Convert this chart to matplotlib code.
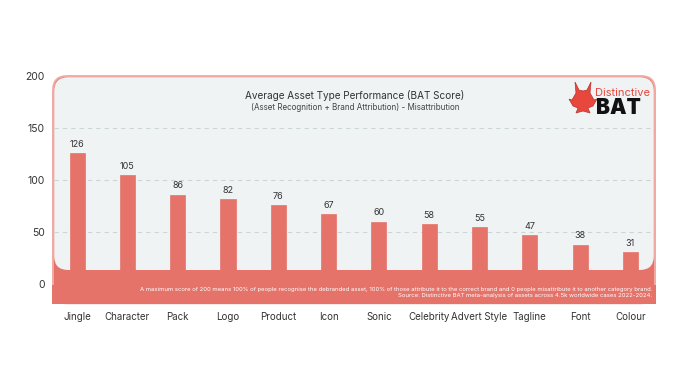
import matplotlib
matplotlib.use("Agg")
import matplotlib.pyplot as plt
from matplotlib.patches import FancyBboxPatch, Rectangle, Polygon

plt.rcParams['font.family'] = ['Inter', 'DejaVu Sans']

categories = ["Jingle", "Character", "Pack", "Logo", "Product", "Icon", "Sonic",
              "Celebrity", "Advert Style", "Tagline", "Font", "Colour"]
values = [126, 105, 86, 82, 76, 67, 60, 58, 55, 47, 38, 31]
yticks = [0, 50, 100, 150, 200]

title = "Average Asset Type Performance (BAT Score)"
subtitle = "(Asset Recognition + Brand Attribution) - Misattribution"
foot1 = ("A maximum score of 200 means 100% of people recognise the debranded asset, 100% of those "
         "attribute it to the correct brand and 0 people misattribute it to another category brand.")
foot2 = "Source: Distinctive BAT meta-analysis of assets across 4.5k worldwide cases 2022-2024."

RED = "#E5736A"
EDGE = "#F2A9A2"
GREY = "#EFF3F4"

fig = plt.figure(figsize=(7, 3.75), dpi=100)
fig.patch.set_facecolor("white")
ax = fig.add_axes([53/700, (375-303.8)/375, 602/700, 228.8/375])
x0, x1 = -0.48, 11.49
y0, y1 = -19, 201
ax.set_xlim(x0, x1)
ax.set_ylim(y0, y1)

px_x = 602 / (x1 - x0)
px_y = 228.8 / (y1 - y0)
r_px = 14
r = r_px / px_x
aspect = (r_px / px_y) / r

# outer red panel with rounded top
outer = FancyBboxPatch((x0, -18.5), x1 - x0, 200 + 18.5,
                       boxstyle=f"round,pad=0,rounding_size={r}",
                       mutation_aspect=aspect, facecolor=RED, edgecolor=EDGE,
                       lw=1.4, zorder=1, clip_on=False)
ax.add_patch(outer)
ax.add_patch(Rectangle((x0 - 0.7/px_x, -18.5 - 0.7/px_y), x1 - x0 + 1.4/px_x, 18,
                       facecolor=RED, edgecolor="none", zorder=1.1, clip_on=False))
# grey inner area
inset_x = 1.2 / px_x
inset_y = 1.2 / px_y
grey = FancyBboxPatch((x0 + inset_x, 13.5), x1 - x0 - 2*inset_x, 200 - 13.5 - inset_y,
                      boxstyle=f"round,pad=0,rounding_size={r}",
                      mutation_aspect=aspect, facecolor=GREY, edgecolor="none",
                      zorder=1.5, clip_on=False)
ax.add_patch(grey)

for g in [50, 100, 150]:
    ax.plot([x0 + inset_x, x1 - inset_x], [g, g], ls=(0, (4, 3.5)), color="#CCD6D7",
            lw=0.8, zorder=2)

xs = list(range(len(categories)))
ax.bar(xs, values, width=0.3, color=RED, edgecolor=RED, lw=0.5, zorder=3)
for xi, v in zip(xs, values):
    ax.text(xi, v + 4, str(v), ha="center", va="bottom", fontsize=6.5,
            color="#333333", zorder=4)

ax.set_xticks(xs)
ax.set_xticklabels(categories, fontsize=7, color="#333333")
ax.set_yticks(yticks)
ax.set_yticklabels([str(t) for t in yticks], fontsize=7.5, color="#333333")
ax.tick_params(axis="both", length=0)
ax.tick_params(axis="x", pad=6)
ax.tick_params(axis="y", pad=6)
for s in ax.spines.values():
    s.set_visible(False)
ax.set_facecolor("none")

fig.text(355/700, 1 - 95/375, title, ha="center", va="center", fontsize=7.2, color="#333333")
fig.text(355/700, 1 - 107/375, subtitle, ha="center", va="center", fontsize=5.8, color="#444444")

fig.text(652/700, 1 - 289/375, foot1, ha="right", va="center", fontsize=4.3, color="white")
fig.text(652/700, 1 - 296/375, foot2, ha="right", va="center", fontsize=4.3, color="white")

# logo
fig.text(595/700, 1 - 93/375, "Distinctive", ha="left", va="center", fontsize=8,
         color="#E8473E")
fig.text(596/700, 1 - 108/375, "BAT", ha="left", va="center", fontsize=15,
         fontweight="black", color="#111111")
bat = [(575, 82), (579, 90), (583, 91), (587, 90), (591, 82), (590, 93), (594, 100),
       (597, 99), (593, 106), (588, 108), (590, 113), (583, 111), (576, 113), (578, 108),
       (573, 106), (569, 99), (572, 100), (576, 93)]
fig.patches.append(Polygon([(px/700, 1 - py/375) for px, py in bat], closed=True,
                           facecolor="#E8473E", edgecolor="#B8322C", lw=0.5,
                           transform=fig.transFigure, figure=fig))

fig.savefig("out.png", dpi=100)
